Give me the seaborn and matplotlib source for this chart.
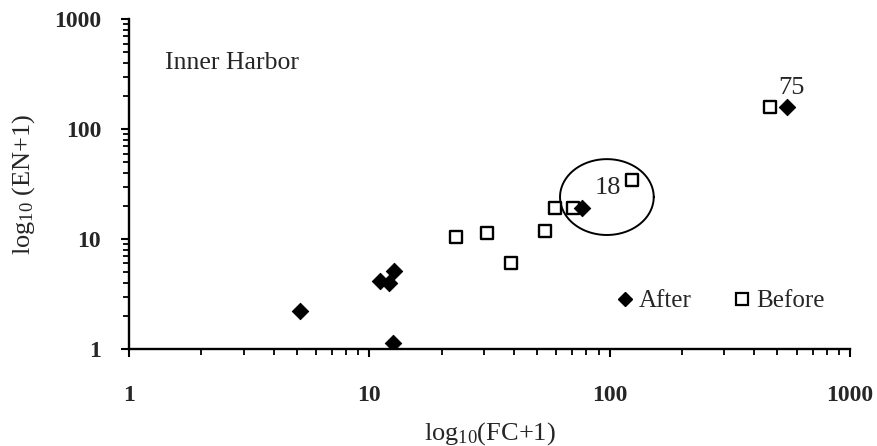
import numpy as np
import seaborn as sns
import matplotlib.pyplot as plt
from matplotlib.lines import Line2D

# data (FC+1, EN+1)
after_fc = [5.15, 11.1, 12.1, 12.7, 12.6, 76.8, 547]
after_en = [2.21, 4.15, 3.98, 5.12, 1.13, 19.1, 158]
before_fc = [22.9, 30.9, 38.9, 53.8, 59.3, 70.4, 124, 465]
before_en = [10.4, 11.3, 6.05, 11.8, 19.1, 19.1, 34.4, 158]

# circled group (log10 centre and half widths)
circle_cx, circle_cy = np.log10(97.5), np.log10(24.1)
circle_rx, circle_ry = 0.195, 0.345

sns.set_style('ticks')
plt.rcParams['font.family'] = ['Liberation Serif', 'DejaVu Serif']
plt.rcParams['mathtext.fontset'] = 'custom'
plt.rcParams['mathtext.rm'] = 'Liberation Serif'

fig = plt.figure(figsize=(8.77, 4.46), dpi=100)
ax = fig.add_axes([0.147, 0.2175, 0.822, 0.7395])

sns.scatterplot(x=before_fc, y=before_en, marker='s', s=85, facecolor='white',
                edgecolor='black', linewidth=1.7, ax=ax, zorder=3)
sns.scatterplot(x=after_fc, y=after_en, marker='D', s=70, color='black',
                edgecolor='black', ax=ax, zorder=4)

ax.set_xscale('log')
ax.set_yscale('log')
ax.set_xlim(1, 1000)
ax.set_ylim(1, 1000)
ax.set_xticks([1, 10, 100, 1000], ['1', '10', '100', '1000'])
ax.set_yticks([1, 10, 100, 1000], ['1', '10', '100', '1000'])
for lab in ax.get_xticklabels() + ax.get_yticklabels():
    lab.set_fontsize(17)
    lab.set_fontweight('bold')
ax.tick_params(which='major', length=6, width=1.5, color='black')
ax.tick_params(axis='x', which='major', pad=20)
ax.tick_params(axis='y', which='major', pad=14)
ax.tick_params(which='minor', length=4, width=1.3, color='black')
sns.despine(ax=ax)
for side in ['left', 'bottom']:
    ax.spines[side].set_linewidth(1.7)
    ax.spines[side].set_color('black')

t = np.linspace(0, 2 * np.pi, 200)
ax.plot(10 ** (circle_cx + circle_rx * np.cos(t)), 10 ** (circle_cy + circle_ry * np.sin(t)),
        color='black', lw=1.4, zorder=2)

ax.text(98.5, 29.1, '18', fontsize=19, ha='center', va='center')
ax.text(574, 236, '75', fontsize=19, ha='center', va='center')
ax.text(1.41, 400, 'Inner Harbor', fontsize=18.5, ha='left', va='center')

ax.set_xlabel(r'$\mathrm{log_{10}}$(FC+1)', fontsize=19, labelpad=10)
ax.set_ylabel(r'$\mathrm{log_{10}}$ (EN+1)', fontsize=19, labelpad=12)

handles = [Line2D([], [], marker='D', color='black', ls='none', markersize=7),
           Line2D([], [], marker='s', markerfacecolor='white', markeredgecolor='black',
                  markeredgewidth=1.6, ls='none', markersize=9)]
ax.legend(handles, ['After', 'Before'], loc='center', bbox_to_anchor=(0.818, 0.145),
          ncol=2, frameon=False, fontsize=18, handletextpad=0.05, columnspacing=1.5,
          handlelength=1.0)

fig.savefig('out.png', dpi=100)
